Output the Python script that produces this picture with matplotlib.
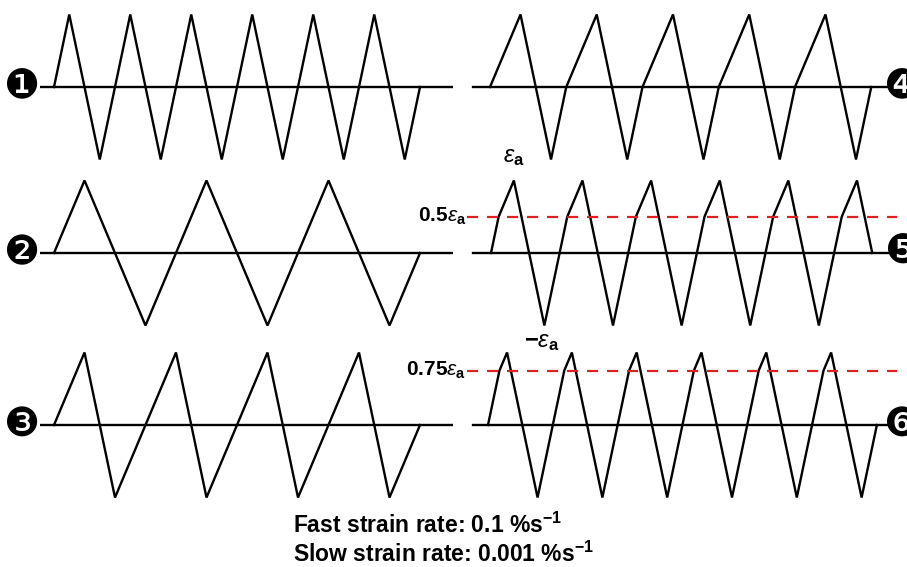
import matplotlib
matplotlib.use("Agg")
import matplotlib.pyplot as plt

plt.rcParams['font.family'] = ['Liberation Sans', 'DejaVu Sans']
plt.rcParams['mathtext.fontset'] = 'custom'
plt.rcParams['mathtext.rm'] = 'Liberation Sans'
plt.rcParams['mathtext.it'] = 'Liberation Sans:italic'
plt.rcParams['mathtext.bf'] = 'Liberation Sans:bold'

# turning points of each strain history (time units, strain / strain amplitude)
# 1: fast only
t1 = [0, 1, 3, 5, 7, 9, 11, 13, 15, 17, 19, 21, 23, 24]
e1 = [0, 1, -1, 1, -1, 1, -1, 1, -1, 1, -1, 1, -1, 0]
# 2: slow only
t2 = [0, 2, 6, 10, 14, 18, 22, 24]
e2 = [0, 1, -1, 1, -1, 1, -1, 0]
# 3: slow loading, fast unloading
t3 = [0, 2, 4, 8, 10, 14, 16, 20, 22, 24]
e3 = [0, 1, -1, 1, -1, 1, -1, 1, -1, 0]
# 4: slow in tension, fast in compression
t4 = [0, 2, 4, 5, 7, 9, 10, 12, 14, 15, 17, 19, 20, 22, 24, 25]
e4 = [0, 1, -1, 0, 1, -1, 0, 1, -1, 0, 1, -1, 0, 1, -1, 0]
# 5: slow above 0.5 ea
t5 = [0, 0.5, 1.5, 3.5, 5, 6, 8, 9.5, 10.5, 12.5, 14, 15, 17, 18.5, 19.5,
      21.5, 23, 24, 25]
e5 = [0, 0.5, 1, -1, 0.5, 1, -1, 0.5, 1, -1, 0.5, 1, -1, 0.5, 1, -1, 0.5, 1, 0]
# 6: slow above 0.75 ea
t6 = [0, 0.75, 1.25, 3.25, 5, 5.5, 7.5, 9.25, 9.75, 11.75, 13.5, 14, 16,
      17.75, 18.25, 20.25, 22, 22.5, 24.5, 25.5]
e6 = [0, 0.75, 1, -1, 0.75, 1, -1, 0.75, 1, -1, 0.75, 1, -1, 0.75, 1, -1,
      0.75, 1, -1, 0]

switch_levels = [None, None, None, None, 0.5, 0.75]
switch_labels = [None, None, None, None, "0.5", "0.75"]
panel_labels = ["\u2776", "\u2777", "\u2778", "\u2779", "\u277a", "\u277b"]
rate_lines = [r"Fast strain rate: 0.1 %s$^{\mathbf{-1}}$",
              r"Slow strain rate: 0.001 %s$^{\mathbf{-1}}$"]

W, H = 907, 567
T_PX = 15.25   # pixels per time unit
A_PX = 72.5    # pixels per strain amplitude
HALF = 95      # half height of each panel box, px

fig = plt.figure(figsize=(W / 100, H / 100), dpi=100)
fig.patch.set_facecolor("white")

histories = [(t1, e1), (t2, e2), (t3, e3), (t4, e4), (t5, e5), (t6, e6)]
baselines = [87, 253, 425, 87, 253, 425]
starts = [54, 54, 54, 490, 491, 488]

for i, (t, e) in enumerate(histories):
    left = i < 3
    x0, x1 = (40, 453) if left else (466, 898)
    base = baselines[i]
    t0 = starts[i]
    ax = fig.add_axes([x0 / W, 1 - (base + HALF) / H, (x1 - x0) / W, 2 * HALF / H])
    ax.set_xlim((x0 - t0) / T_PX, (x1 - t0) / T_PX)
    ax.set_ylim(-HALF / A_PX, HALF / A_PX)
    ax.axis("off")

    if left:
        ax.axhline(0, color="black", lw=1.7)
    else:
        ax.axhline(0, xmin=(473 - x0) / (x1 - x0), xmax=(892 - x0) / (x1 - x0),
                   color="black", lw=1.7)
    ax.plot(t, e, color="black", lw=1.7, solid_joinstyle="miter")

    lvl = switch_levels[i]
    if lvl is not None:
        ax.axhline(lvl, xmin=(467 - x0) / (x1 - x0), xmax=(897 - x0) / (x1 - x0),
                   color="#e02020", lw=1.6, dashes=(5, 4))
        ax.text(0, lvl, switch_labels[i] + r"$\varepsilon_{\mathbf{a}}$",
                transform=ax.get_yaxis_transform(), ha="right", va="center",
                fontsize=15, fontweight="bold")

    mx = (22 - x0) / (x1 - x0) if left else (902 - x0) / (x1 - x0)
    ax.text(mx, 0, panel_labels[i], transform=ax.get_yaxis_transform(),
            ha="center", va="center", fontsize=29, family="DejaVu Sans",
            clip_on=False)

    if i == 4:
        ax.annotate(r"$\varepsilon_{\mathbf{a}}$", (t[2], e[2]),
                    xytext=(0, 9), textcoords="offset points",
                    ha="center", va="bottom", fontsize=17)
        ax.annotate(r"$\mathbf{-}\varepsilon_{\mathbf{a}}$", (t[3], e[3]),
                    xytext=(-2, -4), textcoords="offset points",
                    ha="center", va="top", fontsize=17)

fig.text(293 / W, 1 - 533 / H, rate_lines[0], ha="left", va="baseline",
         fontsize=16.5, fontweight="bold")
fig.text(293 / W, 1 - 562 / H, rate_lines[1], ha="left", va="baseline",
         fontsize=16.5, fontweight="bold")

fig.savefig("out.png", dpi=100, facecolor="white")
